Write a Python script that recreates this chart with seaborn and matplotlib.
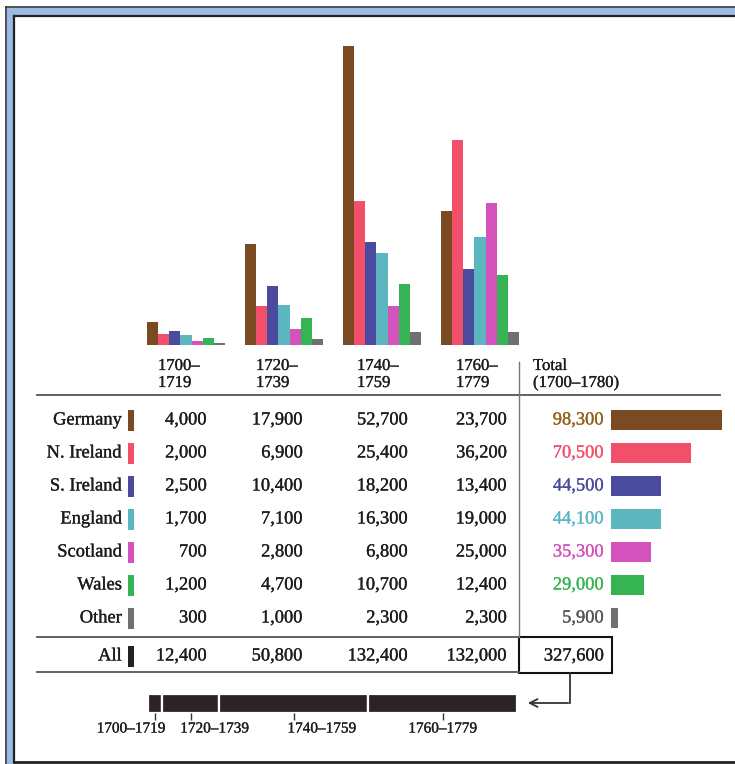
import pandas as pd
import seaborn as sns
import matplotlib.pyplot as plt
import matplotlib.patheffects as pe
from matplotlib.patches import Rectangle

# data (immigrants by origin and period)
periods = ['1700–1719', '1720–1739', '1740–1759', '1760–1779']
header_top = ['1700–', '1720–', '1740–', '1760–']
header_bot = ['1719', '1739', '1759', '1779']
countries = ['Germany', 'N. Ireland', 'S. Ireland', 'England', 'Scotland', 'Wales', 'Other']
germany = [4000, 17900, 52700, 23700]
n_ireland = [2000, 6900, 25400, 36200]
s_ireland = [2500, 10400, 18200, 13400]
england = [1700, 7100, 16300, 19000]
scotland = [700, 2800, 6800, 25000]
wales = [1200, 4700, 10700, 12400]
other = [300, 1000, 2300, 2300]

colors = ['#7a4a22', '#f2506a', '#4a4a9e', '#5cb6c0', '#d452bc', '#36b454', '#707070']
text_colors = ['#936218', '#f2506a', '#4a4a9e', '#5cb6c0', '#d452bc', '#36b454', '#555555']

rows = [germany, n_ireland, s_ireland, england, scotland, wales, other]
df = pd.DataFrame(rows, index=countries, columns=periods)
totals = df.sum(axis=1)
period_totals = df.sum(axis=0)
grand_total = int(totals.sum())

long_df = df.reset_index(names='country').melt(id_vars='country', var_name='period', value_name='value')

W, H = 735, 764
plt.rcParams['font.family'] = ['Liberation Serif', 'DejaVu Serif']
plt.rcParams['text.color'] = '#1c1c1c'
fig = plt.figure(figsize=(W / 100, H / 100), dpi=100)


def px_axes(l, t, r, b):
    return fig.add_axes([l / W, 1 - b / H, (r - l) / W, (b - t) / H])


def heavy(color='#1c1c1c'):
    # scanned print looks a little heavier than plain Liberation Serif
    return [pe.withStroke(linewidth=0.2, foreground=color)]


# overlay in pixel coordinates for frame, table text and rules
ov = fig.add_axes([0, 0, 1, 1])
ov.set_xlim(0, W)
ov.set_ylim(H, 0)
ov.axis('off')

# page frame
ov.add_patch(Rectangle((7, 8), 7, H, color='#9bbbe4', lw=0))
ov.add_patch(Rectangle((7, 8), W, 7, color='#9bbbe4', lw=0))
ov.plot([6, 6], [7, H], color='#333333', lw=1.2)
ov.plot([6, W], [7, 7], color='#333333', lw=1.2)
ov.plot([14.5, 14.5], [15.5, 762], color='#222222', lw=1.6)
ov.plot([14.5, W], [15.5, 15.5], color='#222222', lw=1.6)
ov.plot([14.5, W], [762, 762], color='#222222', lw=2)

# grouped bar chart
ax = px_axes(137, 30, 529, 345)
sns.barplot(data=long_df, x='period', y='value', hue='country', order=periods,
            hue_order=countries, palette=colors, saturation=1, width=0.8,
            legend=False, ax=ax)
ax.set_xlim(-0.5, 3.5)
ax.set_ylim(0, 315 / 5.67 * 1000)
ax.axis('off')

# table header
fs = 13.3
col_left = [158, 256, 357, 456]
for x, t1, t2 in zip(col_left, header_top, header_bot):
    ov.text(x, 366, t1, fontsize=12, ha='left', va='center', path_effects=heavy())
    ov.text(x, 383, t2, fontsize=12, ha='left', va='center', path_effects=heavy())
ov.text(533, 366, 'Total', fontsize=12, ha='left', va='center', path_effects=heavy())
ov.text(533, 383, '(1700–1780)', fontsize=12, ha='left', va='center', path_effects=heavy())

rule = dict(color='#555555', lw=1.3)
ov.plot([37, 720], [395, 395], **rule)
ov.plot([37, 519], [637, 637], **rule)
ov.plot([37, 519], [672, 672], **rule)
ov.plot([519, 519], [362, 637], color='#777777', lw=1)

# table body
col_right = [207, 303, 408, 507]
row_y = [420 + 33 * i for i in range(len(countries))]
for i, c in enumerate(countries):
    y = row_y[i]
    ov.text(122, y, c, fontsize=fs, ha='right', va='center', path_effects=heavy())
    ov.add_patch(Rectangle((128, y - 10.5), 6, 21, color=colors[i], lw=0))
    for j, p in enumerate(periods):
        ov.text(col_right[j], y, f'{df.loc[c, p]:,}', fontsize=fs, ha='right', va='center',
                path_effects=heavy())
    ov.text(604, y, f'{totals[c]:,}', fontsize=fs, ha='right', va='center', color=text_colors[i],
            path_effects=heavy(text_colors[i]))

# all row
ov.text(122, 656, 'All', fontsize=fs, ha='right', va='center', path_effects=heavy())
ov.add_patch(Rectangle((128, 645.5), 6, 21, color='#222222', lw=0))
for j, p in enumerate(periods):
    ov.text(col_right[j], 656, f'{period_totals[p]:,}', fontsize=fs, ha='right', va='center',
            path_effects=heavy())
ov.text(604, 656, f'{grand_total:,}', fontsize=fs, ha='right', va='center', path_effects=heavy())
ov.add_patch(Rectangle((519, 637), 93, 36, fill=False, ec='#111111', lw=1.5))

# total bars
tx = px_axes(611, 403.5, 724, 634.5)
sns.barplot(x=totals.values, y=countries, hue=countries, palette=colors, orient='h',
            saturation=1, width=20 / 33, legend=False, ax=tx)
tx.set_xlim(0, 100000)
tx.set_ylim(6.5, -0.5)
tx.axis('off')

# arrow from total box to stacked bar
ov.plot([570, 570], [673, 703], color='#333333', lw=1.3)
ov.annotate('', xy=(525, 703), xytext=(571, 703),
            arrowprops=dict(arrowstyle='->', color='#333333', lw=1.3, mutation_scale=14))

# stacked bar of period totals
bx = px_axes(148, 694, 517, 722)
lefts = period_totals.cumsum() - period_totals
bx.barh(y=9.5, width=period_totals.values, left=lefts.values, height=19,
        color='#2c2424', edgecolor='white', linewidth=1.6)
centers = (lefts + period_totals / 2).values
bx.vlines(centers, 19, 26, color='#333333', lw=1)
label_shift = [-24, 24, 28, 0]
for cx, lab, dx in zip(centers, periods, label_shift):
    bx.annotate(lab, xy=(cx, 26), xytext=(dx, -9), textcoords='offset pixels',
                fontsize=11, ha='center', va='center', annotation_clip=False,
                path_effects=heavy())
bx.set_xlim(0, grand_total)
bx.set_ylim(28, 0)
bx.axis('off')

fig.savefig('out.png', dpi=100)
